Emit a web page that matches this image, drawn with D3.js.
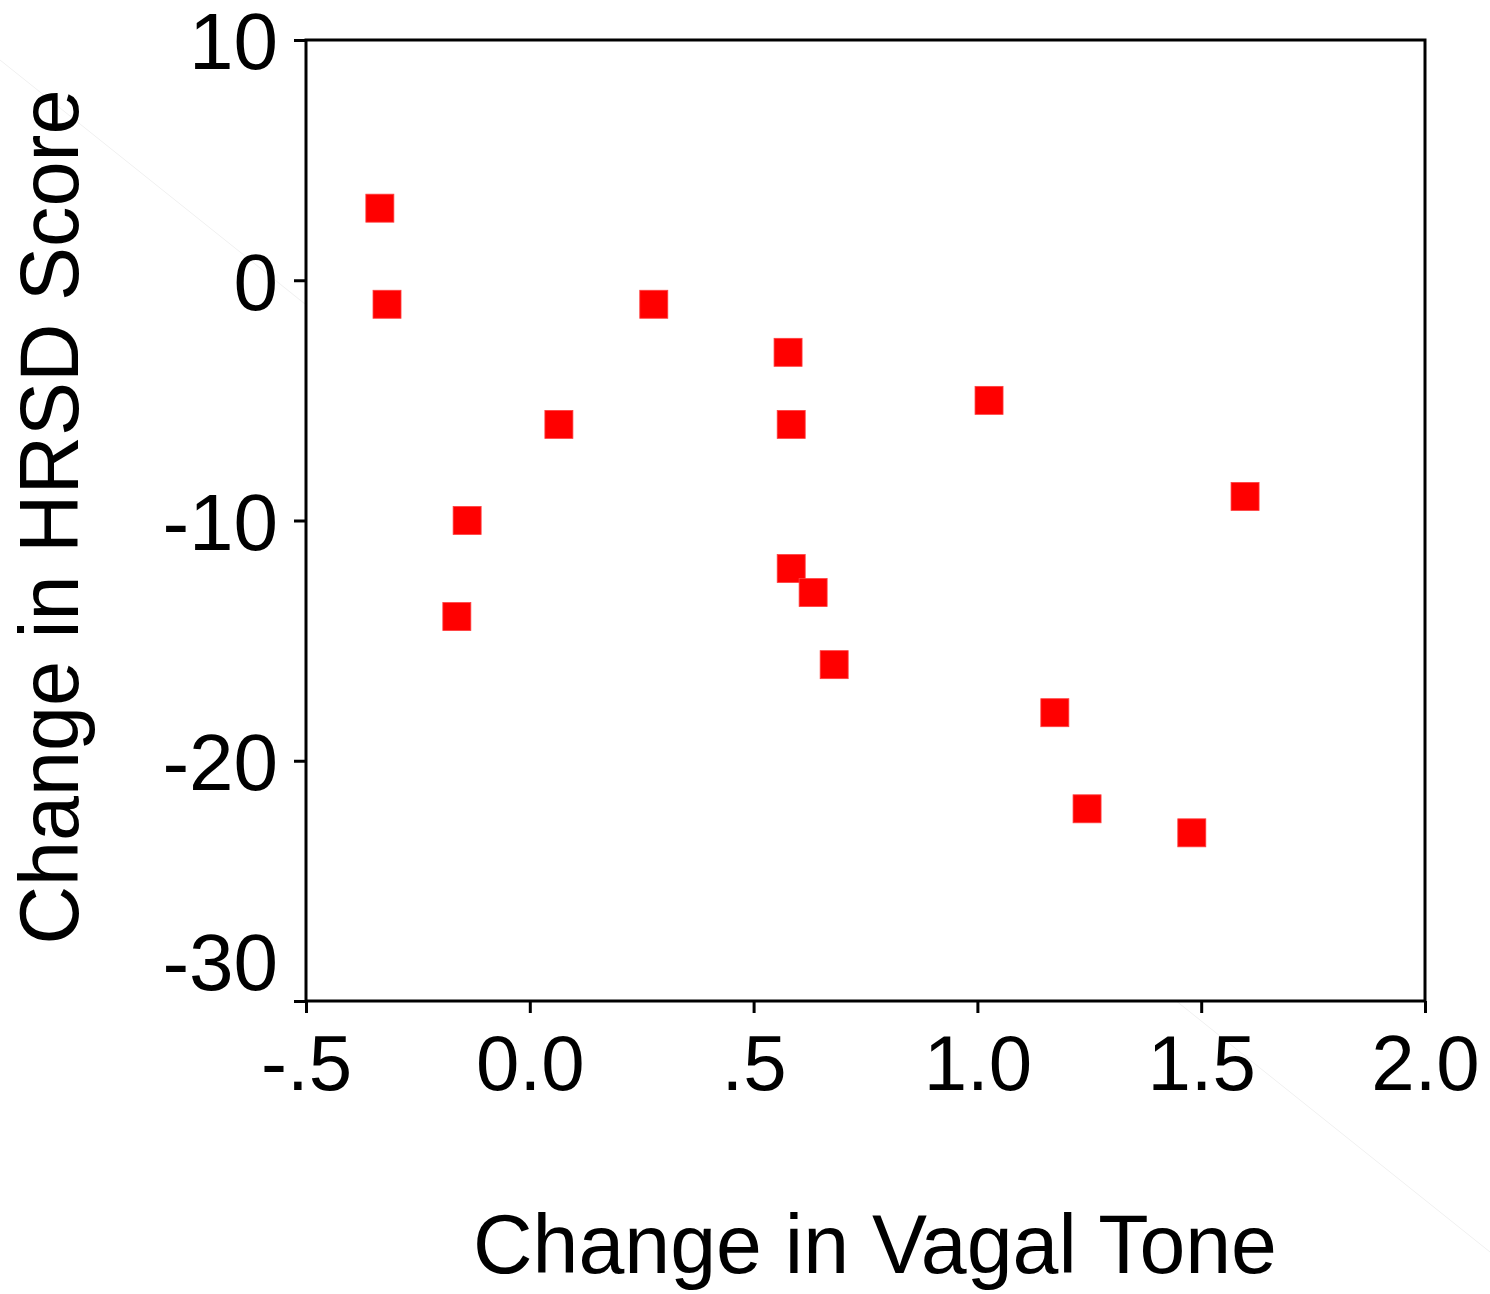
<!DOCTYPE html>
<html>
<head>
<meta charset="utf-8">
<script src="https://cdn.jsdelivr.net/npm/d3@7"></script>
<style>
  html, body { margin: 0; padding: 0; background: #fff; }
  svg { display: block; }
  text { font-family: "Liberation Sans", Arial, sans-serif; fill: #000; }
</style>
</head>
<body>
<svg id="chart" width="1490" height="1294"></svg>
<script>
// Data
const vagalChange = [-0.335, -0.319, 0.277, 0.577, 0.065, 0.584, 1.026, -0.140, -0.163, 0.584, 0.633, 0.680, 1.598, 1.173, 1.245, 1.479];
const hrsdChange  = [3, -1, -1, -3, -6, -6, -5, -10, -14, -12, -13, -16, -9, -18, -22, -23];
const xTickValues = [-0.5, 0.0, 0.5, 1.0, 1.5, 2.0];
const xTickLabels = ["-.5", "0.0", ".5", "1.0", "1.5", "2.0"];
const yTickValues = [10, 0, -10, -20, -30];
const yTickLabels = ["10", "0", "-10", "-20", "-30"];
const xTitle = "Change in Vagal Tone";
const yTitle = "Change in HRSD Score";

(function () {
const svg = d3.select("#chart");
const pL = 306, pR = 1425, pT = 40, pB = 1001;

const x = d3.scaleLinear().domain([-0.5, 2.0]).range([pL, pR]);
const y = d3.scaleLinear().domain([-30, 10]).range([pB, pT]);

// faint scan artifact line
svg.append("line")
  .attr("x1", 0).attr("y1", 60).attr("x2", 1490).attr("y2", 1252)
  .attr("stroke", "#f0f0f0").attr("stroke-width", 1);

// plot background
svg.append("rect")
  .attr("x", pL).attr("y", pT)
  .attr("width", pR - pL).attr("height", pB - pT)
  .attr("fill", "#fff");

// axes
const xAxis = d3.axisBottom(x)
  .tickValues(xTickValues)
  .tickFormat((d, i) => xTickLabels[i])
  .tickSizeInner(12).tickSizeOuter(0).tickPadding(22);
const gx = svg.append("g").attr("transform", `translate(0,${pB})`).call(xAxis);
gx.select(".domain").remove();
gx.selectAll(".tick line").attr("stroke", "#000").attr("stroke-width", 3);
gx.selectAll(".tick text").attr("font-size", 78).attr("fill", "#000")
  .attr("font-family", "Liberation Sans, Arial, sans-serif")
  .attr("dy", "0.71em");

const yAxis = d3.axisLeft(y)
  .tickValues(yTickValues)
  .tickFormat((d, i) => yTickLabels[i])
  .tickSizeInner(12).tickSizeOuter(0).tickPadding(16);
const gy = svg.append("g").attr("transform", `translate(${pL},0)`).call(yAxis);
gy.select(".domain").remove();
gy.selectAll(".tick line").attr("stroke", "#000").attr("stroke-width", 3);
gy.selectAll(".tick text").attr("font-size", 80).attr("fill", "#000")
  .attr("font-family", "Liberation Sans, Arial, sans-serif")
  .attr("dy", d => d === -30 ? "-0.14em" : "0.36em");

// frame
svg.append("rect")
  .attr("x", pL).attr("y", pT)
  .attr("width", pR - pL).attr("height", pB - pT)
  .attr("fill", "none").attr("stroke", "#000").attr("stroke-width", 3);

// points
const pts = vagalChange.map((v, i) => ({ x: v, y: hrsdChange[i] }));
const s = 28;
svg.append("g").selectAll("rect")
  .data(pts).join("rect")
  .attr("x", d => x(d.x) - s / 2)
  .attr("y", d => y(d.y) - s / 2)
  .attr("width", s).attr("height", s)
  .attr("fill", "#ff0000")
  .attr("stroke", "#ff4040").attr("stroke-width", 0.8);

// titles
svg.append("text")
  .attr("x", 875).attr("y", 1273)
  .attr("text-anchor", "middle")
  .attr("font-size", 84)
  .attr("textLength", 804)
  .attr("lengthAdjust", "spacingAndGlyphs")
  .text(xTitle);

svg.append("text")
  .attr("transform", `translate(78,517) rotate(-90)`)
  .attr("text-anchor", "middle")
  .attr("font-size", 84)
  .attr("textLength", 855)
  .attr("lengthAdjust", "spacingAndGlyphs")
  .text(yTitle);
})();
</script>
</body>
</html>
